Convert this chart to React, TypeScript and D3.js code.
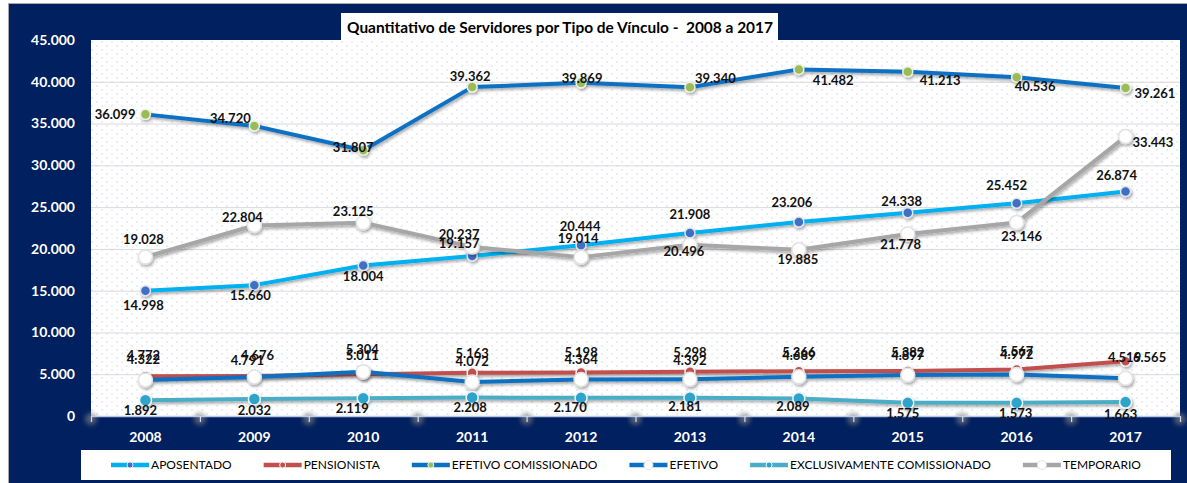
import { useEffect, useRef } from "react";
import * as d3 from "d3";

const years = ["2008", "2009", "2010", "2011", "2012", "2013", "2014", "2015", "2016", "2017"];
const aposentado = [14998, 15660, 18004, 19157, 20444, 21908, 23206, 24338, 25452, 26874];
const pensionista = [4772, 4791, 5011, 5163, 5198, 5298, 5366, 5382, 5567, 6565];
const efetivoComissionado = [36099, 34720, 31807, 39362, 39869, 39340, 41482, 41213, 40536, 39261];
const efetivo = [4322, 4676, 5304, 4072, 4364, 4392, 4689, 4897, 4972, 4519];
const exclusivamente = [1892, 2032, 2119, 2208, 2170, 2181, 2089, 1575, 1573, 1663];
const temporario = [19028, 22804, 23125, 20237, 19014, 20496, 19885, 21778, 23146, 33443];
const yTicks = [0, 5000, 10000, 15000, 20000, 25000, 30000, 35000, 40000, 45000];
const title = "Quantitativo de Servidores por Tipo de Vínculo -  2008 a 2017";

type Anchor = "start" | "middle" | "end";
type Offset = [number, number, Anchor];

// label nudges (px from the marker)
const offAposentado: Offset[] = [
  [-2, 15, "middle"], [-4, 10, "middle"], [0, 11, "middle"], [-13, -13, "middle"], [-1, -19, "middle"],
  [0, -19, "middle"], [-7, -20, "middle"], [-6, -11, "middle"], [-10, -18, "middle"], [-9, -16, "middle"],
];
const offPensionista: Offset[] = [
  [-2, -21, "middle"], [-7, -16, "middle"], [-1, -19, "middle"], [0, -20, "middle"], [0, -20, "middle"],
  [0, -19, "middle"], [0, -19, "middle"], [0, -19, "middle"], [0, -18, "middle"], [24, -4, "middle"],
];
const offEfetivoCom: Offset[] = [
  [-10, 0, "end"], [-24, -8, "middle"], [-10, -3, "middle"], [-2, -11, "middle"], [1, -5, "middle"],
  [5, -9, "start"], [14, 11, "start"], [12, 9, "start"], [-2, 9, "start"], [9, 5, "start"],
];
const offEfetivo: Offset[] = [
  [-2, -21, "middle"], [3, -22, "middle"], [-1, -22, "middle"], [0, -21, "middle"], [0, -20, "middle"],
  [0, -19, "middle"], [0, -22, "middle"], [0, -20, "middle"], [0, -20, "middle"], [-1, -21, "middle"],
];
const offExclusivamente: Offset[] = [
  [-5, 10, "middle"], [0, 11, "middle"], [-11, 10, "middle"], [-2, 10, "middle"], [-11, 9, "middle"],
  [-5, 9, "middle"], [-6, 8, "middle"], [-5, 10, "middle"], [-1, 10, "middle"], [-5, 12, "middle"],
];
const offTemporario: Offset[] = [
  [-2, -18, "middle"], [-12, -8, "middle"], [-10, -11, "middle"], [-13, -13, "middle"], [-3, -19, "middle"],
  [-6, 7, "middle"], [-1, 9, "middle"], [-7, 10, "middle"], [5, 14, "middle"], [7, 6, "start"],
];

interface Series {
  name: string;
  values: number[];
  offsets: Offset[];
  line: string;
  fill: string;
  stroke: string;
  r: number;
}

const series: Series[] = [
  { name: "APOSENTADO", values: aposentado, offsets: offAposentado, line: "#00b0f0", fill: "#3f6fc3", stroke: "#dfe6f0", r: 5 },
  { name: "PENSIONISTA", values: pensionista, offsets: offPensionista, line: "#c0504d", fill: "#c0504d", stroke: "#f4f4f4", r: 5 },
  { name: "EFETIVO COMISSIONADO", values: efetivoComissionado, offsets: offEfetivoCom, line: "#0a70c2", fill: "#9bbb59", stroke: "#eef2e4", r: 5 },
  { name: "EFETIVO", values: efetivo, offsets: offEfetivo, line: "#0a70c2", fill: "#ffffff", stroke: "#e2e2e2", r: 7 },
  { name: "EXCLUSIVAMENTE COMISSIONADO", values: exclusivamente, offsets: offExclusivamente, line: "#4bacc6", fill: "#2ea3cb", stroke: "#eef6f9", r: 6 },
  { name: "TEMPORARIO", values: temporario, offsets: offTemporario, line: "#a6a6a6", fill: "#ffffff", stroke: "#e2e2e2", r: 7 },
];

const FONT = "Lato, 'Open Sans', sans-serif";
const NAVY = "#002060";

export default function App() {
  const ref = useRef<SVGSVGElement>(null);

  useEffect(() => {
    if (!ref.current) return;
    const svg = d3.select(ref.current);
    svg.selectAll("*").remove();

    const plot = { left: 91, right: 1180, top: 40, bottom: 416 };
    const x = d3.scaleBand<string>().domain(years).range([plot.left, plot.right]);
    const cx = (i: number) => (x(years[i]) ?? 0) + x.bandwidth() / 2;
    const y = d3.scaleLinear().domain([0, 45000]).range([plot.bottom, plot.top]);
    const fmt = d3
      .formatLocale({ decimal: ",", thousands: ".", grouping: [3], currency: ["", ""] })
      .format(",d");

    const defs = svg.append("defs");
    const pat = defs
      .append("pattern")
      .attr("id", "dots")
      .attr("width", 10)
      .attr("height", 8)
      .attr("patternUnits", "userSpaceOnUse");
    pat.append("rect").attr("width", 10).attr("height", 8).attr("fill", "#ffffff");
    pat.append("circle").attr("cx", 2).attr("cy", 2).attr("r", 0.75).attr("fill", "#c9d4e8");
    pat.append("circle").attr("cx", 7).attr("cy", 6).attr("r", 0.75).attr("fill", "#c9d4e8");

    const shadow = defs.append("filter").attr("id", "shadow").attr("x", "-10%").attr("y", "-30%").attr("width", "120%").attr("height", "160%");
    shadow
      .append("feDropShadow")
      .attr("dx", 1.2)
      .attr("dy", 2)
      .attr("stdDeviation", 1.4)
      .attr("flood-color", "#000")
      .attr("flood-opacity", 0.35);

    const blur = defs.append("filter").attr("id", "blur").attr("x", "-20%").attr("y", "-200%").attr("width", "140%").attr("height", "500%");
    blur.append("feGaussianBlur").attr("stdDeviation", 2.5);

    // background frame
    svg.append("rect").attr("width", 1187).attr("height", 483).attr("fill", "#ffffff");
    svg
      .append("rect")
      .attr("x", 8.5)
      .attr("y", 3.5)
      .attr("width", 1180)
      .attr("height", 481)
      .attr("fill", NAVY)
      .attr("stroke", "#a8a8a8")
      .attr("stroke-width", 1);

    // plot area
    svg
      .append("rect")
      .attr("x", plot.left)
      .attr("y", plot.top)
      .attr("width", plot.right - plot.left)
      .attr("height", plot.bottom - plot.top + 1)
      .attr("fill", "url(#dots)");

    // gridlines
    svg
      .append("g")
      .selectAll("line")
      .data(yTicks.filter((t) => t > 0 && t < 45000))
      .join("line")
      .attr("x1", plot.left)
      .attr("x2", plot.right)
      .attr("y1", (d) => y(d) + 0.5)
      .attr("y2", (d) => y(d) + 0.5)
      .attr("stroke", "#d9d9d9")
      .attr("stroke-width", 1);

    // title box
    const tg = svg.append("g");
    tg.append("rect").attr("x", 341).attr("y", 13).attr("width", 437).attr("height", 28).attr("fill", "#ffffff");
    tg.append("text")
      .attr("x", 347)
      .attr("y", 33)
      .attr("font-family", FONT)
      .attr("font-size", 16)
      .attr("font-weight", 700)
      .attr("fill", "#000")
      .attr("textLength", 426)
      .attr("lengthAdjust", "spacingAndGlyphs")
      .style("white-space", "pre")
      .text(title);

    // y tick labels
    svg
      .append("g")
      .selectAll("text")
      .data(yTicks)
      .join("text")
      .attr("x", 75)
      .attr("y", (d) => y(d))
      .attr("dy", "0.35em")
      .attr("text-anchor", "end")
      .attr("font-family", FONT)
      .attr("font-size", 14)
      .attr("font-weight", 700)
      .attr("fill", "#ffffff")
      .text((d) => fmt(d));

    // shadow band along the axis
    const boundaries = d3.range(years.length + 1).map((i) => plot.left + i * x.bandwidth());
    svg
      .append("line")
      .attr("x1", plot.left)
      .attr("x2", plot.right)
      .attr("y1", plot.bottom - 5)
      .attr("y2", plot.bottom - 5)
      .attr("stroke", "#8c8c8c")
      .attr("stroke-width", 7)
      .attr("opacity", 0.75)
      .attr("filter", "url(#blur)");
    svg
      .append("g")
      .selectAll("circle")
      .data(boundaries)
      .join("circle")
      .attr("cx", (d) => d)
      .attr("cy", plot.bottom + 3)
      .attr("r", 6)
      .attr("fill", "#7a7a7a")
      .attr("opacity", 0.7)
      .attr("filter", "url(#blur)");

    // x axis
    const xa = svg.append("g");
    xa.append("line")
      .attr("x1", plot.left)
      .attr("x2", plot.right)
      .attr("y1", plot.bottom + 0.5)
      .attr("y2", plot.bottom + 0.5)
      .attr("stroke", "#b8c8e4")
      .attr("stroke-width", 1.5);
    xa.selectAll("line.tick")
      .data(boundaries)
      .join("line")
      .attr("class", "tick")
      .attr("x1", (d) => d + 0.5)
      .attr("x2", (d) => d + 0.5)
      .attr("y1", plot.bottom)
      .attr("y2", plot.bottom + 6)
      .attr("stroke", "#d0dbee")
      .attr("stroke-width", 1.2);
    xa.selectAll("text")
      .data(years)
      .join("text")
      .attr("x", (_d, i) => cx(i))
      .attr("y", 437)
      .attr("dy", "0.35em")
      .attr("text-anchor", "middle")
      .attr("font-family", FONT)
      .attr("font-size", 14)
      .attr("font-weight", 700)
      .attr("fill", "#ffffff")
      .text((d) => d);

    // series
    const line = d3
      .line<number>()
      .x((_d, i) => cx(i))
      .y((d) => y(d));

    const sg = svg.append("g");
    series.forEach((s) => {
      const g = sg.append("g").attr("filter", "url(#shadow)");
      g.append("path")
        .datum(s.values)
        .attr("d", line)
        .attr("fill", "none")
        .attr("stroke", s.line)
        .attr("stroke-width", 4)
        .attr("stroke-linejoin", "round");
      g.selectAll("circle")
        .data(s.values)
        .join("circle")
        .attr("cx", (_d, i) => cx(i))
        .attr("cy", (d) => y(d))
        .attr("r", s.r)
        .attr("fill", s.fill)
        .attr("stroke", s.stroke)
        .attr("stroke-width", 1.5);
    });

    // data labels
    const lg = svg.append("g");
    series.forEach((s) => {
      lg.append("g")
        .selectAll("text")
        .data(s.values)
        .join("text")
        .attr("x", (_d, i) => cx(i) + s.offsets[i][0])
        .attr("y", (d, i) => y(d) + s.offsets[i][1])
        .attr("dy", "0.36em")
        .attr("text-anchor", (_d, i) => s.offsets[i][2])
        .attr("font-family", FONT)
        .attr("font-size", 13)
        .attr("font-weight", 700)
        .attr("fill", "#111111")
        .text((d) => fmt(d));
    });

    // legend
    const leg = { x: 81, y: 450, w: 1090, h: 30 };
    svg.append("rect").attr("x", leg.x).attr("y", leg.y).attr("width", leg.w).attr("height", leg.h).attr("fill", "#ffffff");
    const items = svg.append("g");
    const symW = 38;
    const gap = 32;
    const widths: number[] = [];
    const groups = series.map((s) => {
      const g = items.append("g");
      g.append("line")
        .attr("x1", 0)
        .attr("x2", symW)
        .attr("y1", 0)
        .attr("y2", 0)
        .attr("stroke", s.line)
        .attr("stroke-width", 4.5);
      g.append("circle")
        .attr("cx", symW / 2)
        .attr("cy", 0)
        .attr("r", s.r >= 7 ? 4.5 : 3)
        .attr("fill", s.fill)
        .attr("stroke", s.stroke)
        .attr("stroke-width", 1);
      const t = g
        .append("text")
        .attr("x", symW + 2)
        .attr("y", 0)
        .attr("dy", "0.36em")
        .attr("font-family", FONT)
        .attr("font-size", 12)
        .attr("fill", "#000")
        .text(s.name);
      widths.push(symW + 2 + (t.node()?.getComputedTextLength() ?? 0));
      return g;
    });
    const total = d3.sum(widths) + gap * (widths.length - 1);
    let cur = leg.x + (leg.w - total) / 2;
    groups.forEach((g, i) => {
      g.attr("transform", `translate(${cur},${leg.y + leg.h / 2})`);
      cur += widths[i] + gap;
    });
  }, []);

  return (
    <svg
      ref={ref}
      width={1187}
      height={483}
      style={{ position: "absolute", left: 0, top: 0, display: "block" }}
    />
  );
}
